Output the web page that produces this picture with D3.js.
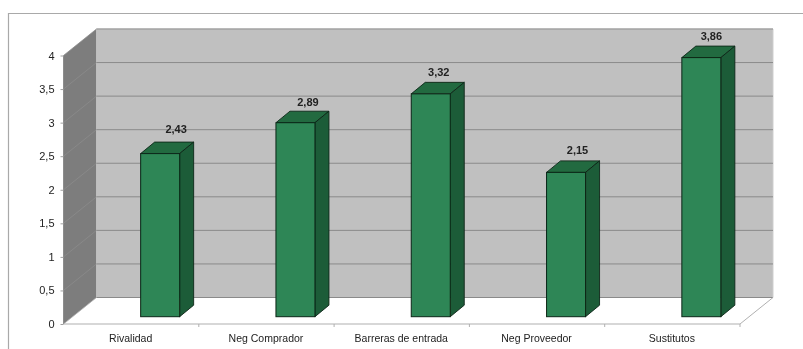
<!DOCTYPE html>
<html><head><meta charset="utf-8">
<script src="https://cdn.jsdelivr.net/npm/d3@7"></script>
<style>html,body{margin:0;padding:0;background:#fff}svg{display:block}text{font-family:"Liberation Sans",Arial,sans-serif}</style>
</head><body><svg id="c" width="803" height="349"></svg>
<script>
const categories = ["Rivalidad","Neg Comprador","Barreras de entrada","Neg Proveedor","Sustitutos"];
const values = [2.43,2.89,3.32,2.15,3.86];
const valueLabels = ["2,43","2,89","3,32","2,15","3,86"];
const yTicks = [0,0.5,1,1.5,2,2.5,3,3.5,4];

const svg = d3.select("#c");
const defs = svg.append("defs");
defs.append("filter").attr("id","soft").append("feGaussianBlur").attr("stdDeviation",0.35);
const root = svg.append("g").attr("filter","url(#soft)");

const left=63.5, right=740, base=324, top4=55.5;
const wallDx=33, wallDy=26.5;
const x = d3.scaleBand().domain(categories).range([left,right]);
const y = d3.scaleLinear().domain([0,4]).range([base,top4]);
const barW=39, depthX=14, depthY=11.5, shiftX=29, shiftY=7.3;
// fine placement of the value labels, per bar
const nudgeX=[16,12.5,8,11.5,10], nudgeY=[-24.5,-21,-22,-22,-21.5];

// outer frame
root.append("path").attr("d","M8.5,349V13.5H803").attr("fill","none").attr("stroke","#a9a9a9").attr("stroke-width",1.2);

// floor
root.append("path").attr("d",`M${left},${base}L${left+wallDx},${base-wallDy}H${right+wallDx}L${right},${base}Z`)
  .attr("fill","#fff").attr("stroke","none");
// side wall
root.append("path").attr("d",`M${left},${base}V${top4}L${left+wallDx},${top4-wallDy}V${base-wallDy}Z`).attr("fill","#7d7d7d");
// back wall
root.append("rect").attr("x",left+wallDx).attr("y",y(4)-wallDy).attr("width",right-left).attr("height",y(0)-y(4))
  .attr("fill","#c0c0c0");
root.append("path").attr("d",`M${left+wallDx},${top4-wallDy}H${right+wallDx}V${base-wallDy}`).attr("fill","none").attr("stroke","#cfcfcf");
// gridlines
const g = root.append("g").selectAll("g").data(yTicks).join("g");
g.append("line").attr("x1",left).attr("y1",d=>y(d)).attr("x2",left+wallDx).attr("y2",d=>y(d)-wallDy)
  .attr("stroke",d=>d===0?"#b0b0b0":"#8c8c8c").attr("stroke-width",0.8);
g.append("line").attr("x1",left+wallDx).attr("y1",d=>y(d)-wallDy).attr("x2",right+wallDx).attr("y2",d=>y(d)-wallDy)
  .attr("stroke","#8a8a8a").attr("stroke-width",1);
// floor right edge
root.append("line").attr("x1",right).attr("y1",base).attr("x2",right+wallDx).attr("y2",base-wallDy).attr("stroke","#b0b0b0");

// axes
const ax = root.append("g").attr("transform",`translate(${left},0)`)
  .call(d3.axisLeft(y).tickValues(yTicks).tickSize(3).tickPadding(6).tickFormat(d=>String(d).replace(".",",")));
ax.selectAll("text").attr("font-size",11).attr("fill","#222").attr("font-family",'"Liberation Sans",Arial,sans-serif');
ax.selectAll("line,path").attr("stroke","#a0a0a0");
ax.select(".domain").attr("stroke","#8c8c8c").attr("d",`M0,${top4}V${base}`);

const bx = root.append("g").attr("transform",`translate(0,${base})`)
  .call(d3.axisBottom(x).tickSize(0).tickPadding(11));
bx.selectAll("text").attr("font-size",10.5).attr("fill","#222").attr("font-family",'"Liberation Sans",Arial,sans-serif').attr("dx",-0.5);
bx.select(".domain").attr("stroke","#b0b0b0").attr("stroke-width",1.2).attr("d",`M${left},0H${right}`);
root.append("g").selectAll("line").data(categories.map((c)=>x(c)+x.bandwidth())).join("line")
  .attr("x1",d=>d).attr("x2",d=>d).attr("y1",base).attr("y2",base+3).attr("stroke","#b0b0b0");

// bars
const bars = root.append("g").selectAll("g").data(values).join("g");
const bl=(d,i)=>x(categories[i])+x.bandwidth()/2+shiftX-barW/2;
const bb=base-shiftY, tp=d=>y(d)-shiftY;
bars.append("path").attr("d",(d,i)=>`M${bl(d,i)},${tp(d)}l${depthX},${-depthY}h${barW}l${-depthX},${depthY}Z`)
  .attr("fill","#236b41").attr("stroke","#0d2617").attr("stroke-width",0.9);
bars.append("path").attr("d",(d,i)=>`M${bl(d,i)+barW},${tp(d)}l${depthX},${-depthY}V${bb-depthY}l${-depthX},${depthY}Z`)
  .attr("fill","#1f5b39").attr("stroke","#0d2617").attr("stroke-width",0.9);
bars.append("rect").attr("x",bl).attr("y",tp).attr("width",barW).attr("height",d=>bb-tp(d))
  .attr("fill","#2e8656").attr("stroke","#0d2617").attr("stroke-width",1);
bars.append("text").attr("x",(d,i)=>bl(d,i)+barW/2+nudgeX[i]).attr("y",(d,i)=>tp(d)+nudgeY[i]+4)
  .attr("text-anchor","middle").attr("font-size",11).attr("font-weight",700).attr("fill","#222")
  .text((d,i)=>valueLabels[i]);
</script></body></html>
